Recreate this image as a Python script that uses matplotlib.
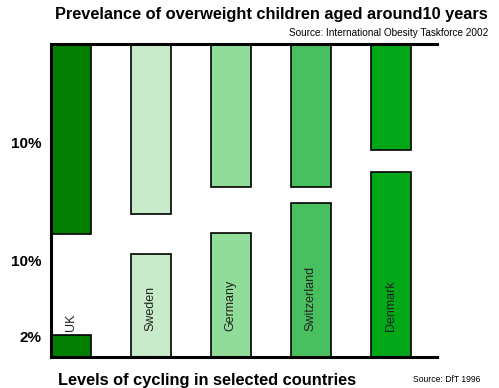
import matplotlib.pyplot as plt
import numpy as np

plt.rcParams['font.family'] = ['Liberation Sans', 'DejaVu Sans']

# --- data ---
countries = ['UK', 'Sweden', 'Germany', 'Switzerland', 'Denmark']
overweight = [19.0, 17.0, 14.3, 14.3, 10.6]   # % overweight children (hanging bars)
cycling = [2.2, 10.3, 12.4, 15.4, 18.5]       # % trips by bicycle (rising bars)
bar_colors = ['#007f00', '#c8ecca', '#92dc9a', '#48c060', '#00a818']
tick_labels = ['2%', '10%', '10%']
tick_pos = [2.0, 9.6, 21.4]

y_top = 31.3
x = np.arange(len(countries))

fig = plt.figure(figsize=(4.99, 3.88), dpi=100)
ax = fig.add_axes([51 / 499, 31 / 388, (437 - 51) / 499, (357 - 44) / 388])

# lower bars: cycling
ax.bar(x, cycling, width=0.5, bottom=0, color=bar_colors,
       edgecolor='black', linewidth=1.2, zorder=2)
# upper bars: overweight, hanging from the top line
ax.bar(x, overweight, width=0.5, bottom=[y_top - v for v in overweight],
       color=bar_colors, edgecolor='black', linewidth=1.2, zorder=2)

for xi, name in zip(x, countries):
    ax.text(xi, 2.6, name, rotation=90, ha='center', va='bottom',
            fontsize=9, color='#222222', zorder=3)

ax.set_xlim(-0.245, 4.58)
ax.set_ylim(0, y_top)
ax.set_xticks([])
ax.set_yticks(tick_pos)
ax.set_yticklabels(tick_labels, fontsize=11, fontweight='bold')
ax.tick_params(axis='y', length=0, pad=7)

for side in ['left', 'bottom', 'top']:
    ax.spines[side].set_linewidth(2.2)
    ax.spines[side].set_color('black')
ax.spines['right'].set_visible(False)

fig.text(488 / 499, 1 - 15 / 388, 'Prevelance of overweight children aged around10 years',
         ha='right', va='center', fontsize=11.8, fontweight='bold')
fig.text(488 / 499, 1 - 33 / 388, 'Source: International Obesity Taskforce 2002',
         ha='right', va='center', fontsize=7.2)
fig.text(58 / 499, 1 - 380 / 388, 'Levels of cycling in selected countries',
         ha='left', va='center', fontsize=11.8, fontweight='bold')
fig.text(480 / 499, 1 - 380 / 388, 'Source: DfT 1996',
         ha='right', va='center', fontsize=6.2)

plt.savefig('out.png', dpi=100)
